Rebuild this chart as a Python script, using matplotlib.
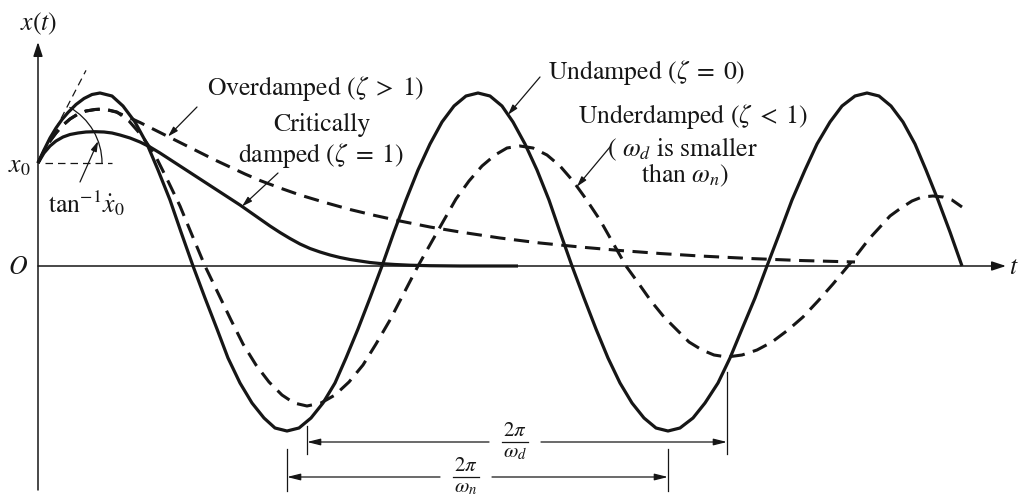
import numpy as np
import matplotlib
matplotlib.use("Agg")
import matplotlib.pyplot as plt
from matplotlib.patches import Arc

plt.rcParams["mathtext.fontset"] = "stix"
plt.rcParams["font.family"] = ["STIXGeneral", "DejaVu Serif"]

# ---- responses x(t) of the single-degree-of-freedom system ----
t_undamped = [0, 6, 12, 18, 24, 30, 38, 46, 54, 62,
              74, 85, 97, 109, 120, 132, 143, 155,
              167, 179, 190, 202, 214, 226, 237, 249,
              261, 273, 285, 297, 308, 320, 332, 344,
              356, 368, 380, 392, 404, 416, 428, 440,
              452, 464, 475, 487, 499, 511, 522, 534,
              546, 558, 570, 582, 594, 606, 618, 630,
              642, 655, 667, 680, 692, 704, 717, 729,
              742, 754, 767, 779, 792, 804, 817, 829,
              841, 853, 865, 877, 888, 900, 912, 924]
x_undamped = [103, 116, 128, 138, 146.5, 153.5, 161.5, 167.5, 171.5, 173,
              170, 160, 144, 122, 96, 66, 34, 0,
              -32, -63, -92, -117, -137, -152, -162, -165,
              -162, -152, -137, -117, -92, -63, -32, 0,
              34, 66, 96, 122, 144, 160, 170, 173,
              170, 160, 144, 122, 96, 66, 34, 0,
              -32, -63, -92, -117, -137, -152, -162, -165,
              -162, -152, -137, -117, -92, -63, -32, 0,
              34, 66, 96, 122, 144, 160, 170, 173,
              170, 160, 144, 122, 96, 66, 34, 0]

t_under = [0, 6, 12, 18, 24, 32, 40, 48, 57, 66,
           79, 91, 104, 117, 129, 142, 154, 167,
           180, 193, 205, 218, 231, 244, 256, 269,
           283, 297, 311, 325, 338, 352, 366, 380,
           393, 406, 418, 431, 444, 457, 469, 482,
           495, 509, 522, 535, 548, 562, 575, 588,
           601, 613, 626, 639, 651, 664, 676, 689,
           704, 719, 734, 750, 765, 780, 795, 810,
           821, 831, 842, 852, 863, 874, 884, 895,
           905, 914, 924]
x_under = [103, 115, 125, 133, 140, 147, 152, 155, 156.5, 157,
           154, 145, 130, 111, 87, 60, 31, 0,
           -27, -54, -78, -99, -116, -129, -137, -140,
           -137, -129, -116, -99, -78, -54, -27, 0,
           23, 46, 67, 85, 100, 111, 118, 120,
           118, 111, 100, 85, 67, 46, 23, 0,
           -18, -35, -51, -64, -76, -84, -89, -91,
           -89, -84, -76, -64, -51, -35, -18, 0,
           14, 27, 39, 50, 58, 65, 69, 70,
           69, 66, 59]

t_over = [0, 6, 12, 18, 24, 32, 40, 48, 57, 66,
          78, 90, 102, 114, 126, 138, 150, 162, 177, 192,
          207, 222, 242, 262, 287, 312, 337, 362, 392, 422,
          462, 502, 542, 582, 622, 662, 712, 762, 817]
x_over = [103, 115, 125, 133, 140, 147, 152, 155, 156.5, 157,
          154, 149, 143.5, 137.5, 131.5, 125.5, 119.5, 113.5, 106, 99,
          92, 85.5, 78, 71, 63.5, 56.5, 50.5, 45, 39, 34,
          28, 23, 19, 15.5, 12.5, 10, 7.5, 5.5, 4]

t_crit = [0, 6, 12, 18, 25, 32, 40, 48, 57, 66,
          74, 82, 92, 102, 112, 122, 132, 142, 152, 162,
          172, 182, 192, 202, 212, 222, 232, 242, 252, 262,
          272, 282, 292, 302, 312, 322, 332, 342, 357, 372,
          392, 422, 480]
x_crit = [103, 113, 120, 125, 129, 131.5, 133, 134, 134.3, 134,
          133, 131, 128, 124, 119, 113, 106.5, 100, 93.5, 87,
          80.5, 74, 67.5, 61, 54, 47, 40, 33.5, 27.5, 22,
          17.5, 14, 11, 8.5, 6.5, 5, 3.5, 2.5, 1.5, 0.8,
          0.3, 0, 0]

x_dot0 = 1.93        # initial slope of every response

ink = "#161616"
fig = plt.figure(figsize=(10.19, 4.99), dpi=100)
ax = fig.add_axes([0, 0, 1, 1])
ax.set_xlim(-38, 981)
ax.set_ylim(-233, 266)
ax.axis("off")

# coordinate axes
axis_kw = dict(arrowstyle="-|>,head_length=0.85,head_width=0.28",
               lw=1.1, color=ink, shrinkA=0, shrinkB=0, mutation_scale=10)
ax.annotate("", xy=(968, 0), xytext=(0, 0), arrowprops=axis_kw)
ax.annotate("", xy=(0, 224), xytext=(0, -224), arrowprops=axis_kw)

# response curves
solid = dict(color=ink, lw=2.3, solid_capstyle="butt", solid_joinstyle="round")
dashed = dict(color=ink, lw=2.2, linestyle=(0, (5.0, 2.8)), dash_capstyle="butt")
ax.plot(t_crit, x_crit, **solid)
ax.plot(t_undamped, x_undamped, **solid)
ax.plot(t_over, x_over, **dashed)
ax.plot(t_under, x_under, **dashed)

# initial conditions: x0 reference line, tangent and angle
x0 = x_undamped[0]
ax.plot([7, 74], [x0, x0], color=ink, lw=0.9, linestyle=(0, (6, 4)))
ax.plot([0, 48], [x0, x0 + x_dot0 * 48], color=ink, lw=0.9, linestyle=(0, (6, 4)))
ang = np.degrees(np.arctan(x_dot0))
ax.add_patch(Arc((0, x0), 128, 128, theta1=0, theta2=ang - 2, color=ink, lw=0.9))
tip_a = np.radians(20)
small = dict(arrowstyle="-|>,head_length=0.6,head_width=0.18", lw=0.9,
             color=ink, shrinkA=0, shrinkB=0, mutation_scale=10)
ax.annotate("", xy=(64 * np.cos(tip_a), x0 + 64 * np.sin(tip_a)),
            xytext=(42, 84), arrowprops=small)

# text labels
fs = 18.5
txt = dict(fontsize=fs, va="center", color=ink)
ax.text(1, 242, r"$x(t)$", ha="center", **txt)
ax.text(-20, -2, r"$O$", ha="center", **txt)
ax.text(-19, 100, r"$x_0$", ha="center", **txt)
ax.text(971, -2, r"$t$", ha="left", **txt)
ax.text(48, 63, r"$\mathrm{tan}^{-1}\dot{x}_0$", ha="center", **txt)

ax.text(169, 178, r"Overdamped ($\zeta\;>\;1$)", ha="left", **txt)
ax.text(284, 141, "Critically", ha="center", **txt)
ax.text(283, 111, r"damped ($\zeta\;=\;1$)", ha="center", **txt)
ax.text(510, 194, r"Undamped ($\zeta\;=\;0$)", ha="left", **txt)
ax.text(540, 150, r"Underdamped ($\zeta\;<\;1$)", ha="left", **txt)
ax.text(644, 117, r"( $\omega_d$ is smaller", ha="center", **txt)
ax.text(647, 91, r"than $\omega_n$)", ha="center", **txt)


def leader(start, t_tip, t_data, x_data):
    tip = (t_tip, float(np.interp(t_tip, t_data, x_data)))
    ax.annotate("", xy=tip, xytext=start, arrowprops=small)


leader((159, 159), 130, t_over, x_over)
leader((240, 93), 204, t_crit, x_crit)
leader((502, 189), 470, t_undamped, x_undamped)
leader((572, 119), 539, t_under, x_under)


# period dimensions between successive minima
def local_minima(t, x):
    return [t[i] for i in range(1, len(x) - 1) if x[i] < x[i - 1] and x[i] <= x[i + 1]]


def dimension(t_a, t_b, y, tick_tops, tick_bottom, num, den, mid, gap_half=26):
    for tt, top in zip((t_a, t_b), tick_tops):
        ax.plot([tt, tt], [top, tick_bottom], color=ink, lw=0.9)
    dim = dict(arrowstyle="-|>,head_length=0.8,head_width=0.2", lw=0.9,
               color=ink, shrinkA=0, shrinkB=0, mutation_scale=10)
    ax.annotate("", xy=(t_a, y), xytext=(mid - gap_half, y), arrowprops=dim)
    ax.annotate("", xy=(t_b, y), xytext=(mid + gap_half, y), arrowprops=dim)
    ax.plot([mid - 13, mid + 13], [y, y], color=ink, lw=0.9)
    ax.text(mid, y + 1, num, fontsize=15, ha="center", va="bottom", color=ink)
    ax.text(mid, y - 1, den, fontsize=15, ha="center", va="top", color=ink)


mins_d = local_minima(t_under, x_under)[:2]
mins_n = local_minima(t_undamped, x_undamped)
mins_n = [mins_n[0], mins_n[-1]] if len(mins_n) > 2 else mins_n
dimension(mins_d[0], mins_d[1], -176, (-160, -106), -188,
          r"$2\pi$", r"$\omega_d$", 477)
dimension(mins_n[0], mins_n[1], -211, (-183, -183), -225,
          r"$2\pi$", r"$\omega_n$", 428)

fig.savefig("out.png", dpi=100, facecolor="white")
